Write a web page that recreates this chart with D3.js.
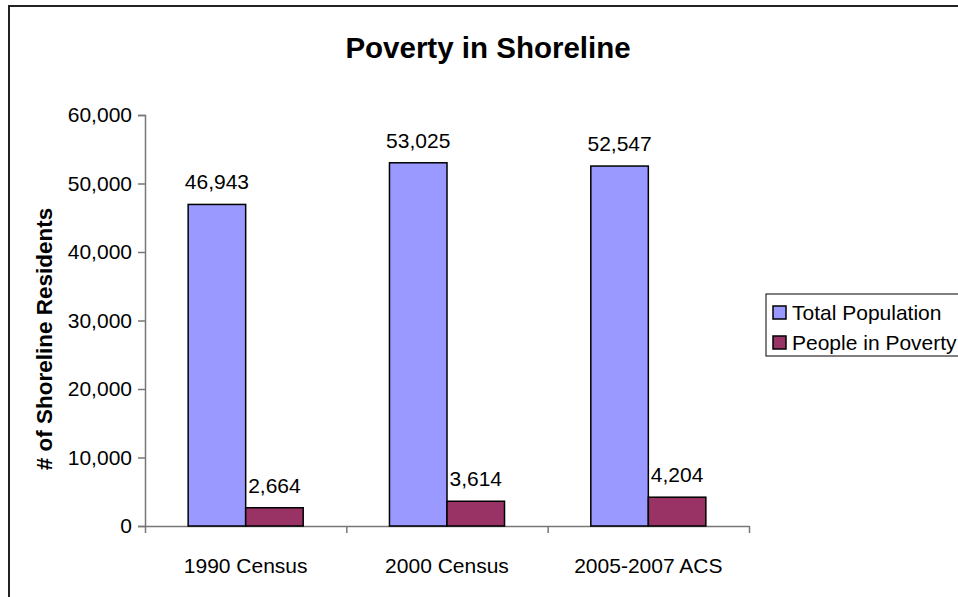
<!DOCTYPE html>
<html>
<head>
<meta charset="utf-8">
<script src="https://cdn.jsdelivr.net/npm/d3@7"></script>
<style>
  html, body { margin: 0; padding: 0; background: #fff; }
  svg { display: block; font-family: Arial, "Liberation Sans", sans-serif; }
</style>
</head>
<body>
<svg id="chart" width="958" height="597"></svg>
<script>
// Poverty in Shoreline — total population vs. people in poverty
const categories = ["1990 Census", "2000 Census", "2005-2007 ACS"];
const seriesNames = ["Total Population", "People in Poverty"];
const totalPopulation = [46943, 53025, 52547];
const peopleInPoverty = [2664, 3614, 4204];
const yTicks = [0, 10000, 20000, 30000, 40000, 50000, 60000];
const seriesColors = ["#9999FF", "#993366"];

const seriesValues = [totalPopulation, peopleInPoverty];

const svg = d3.select("#chart");

// outer frame
svg.append("rect")
  .attr("x", 9).attr("y", 6)
  .attr("width", 1200).attr("height", 1200)
  .attr("fill", "none").attr("stroke", "#222").attr("stroke-width", 2);

// title
svg.append("text")
  .attr("x", 488).attr("y", 58)
  .attr("text-anchor", "middle")
  .attr("font-size", 29.5).attr("font-weight", "bold")
  .text("Poverty in Shoreline");

const plot = { left: 145, right: 749, top: 115, bottom: 526 };

const x0 = d3.scaleBand().domain(categories).range([plot.left, plot.right]).padding(0);
const x1 = d3.scaleBand().domain(seriesNames).range([0, x0.bandwidth()])
  .paddingInner(0).paddingOuter(0.75);
const y = d3.scaleLinear().domain([0, 60000]).range([plot.bottom, plot.top]);

const fmt = d3.format(",");

// y axis
const yAxis = d3.axisLeft(y).tickValues(yTicks).tickFormat(fmt).tickSize(7).tickPadding(6);
const gy = svg.append("g").attr("transform", `translate(${plot.left},0)`).call(yAxis);
gy.select(".domain").attr("stroke", "#777").attr("stroke-width", 1.5);
gy.selectAll(".tick line").attr("stroke", "#777").attr("stroke-width", 1.5);
gy.selectAll(".tick text").attr("font-size", 21).attr("fill", "#000")
  .attr("font-family", "Arial, 'Liberation Sans', sans-serif");

// x axis: ticks at category boundaries
const boundaries = categories.map(c => x0(c)).concat([plot.right]);
const xb = d3.scaleLinear().domain([plot.left, plot.right]).range([plot.left, plot.right]);
const xAxis = d3.axisBottom(xb).tickValues(boundaries).tickFormat("").tickSize(7).tickSizeOuter(0);
const gx = svg.append("g").attr("transform", `translate(0,${plot.bottom})`).call(xAxis);
gx.select(".domain").attr("stroke", "#777").attr("stroke-width", 1.5);
gx.selectAll(".tick line").attr("stroke", "#777").attr("stroke-width", 1.5);

// category labels
svg.append("g").selectAll("text").data(categories).join("text")
  .attr("x", d => x0(d) + x0.bandwidth() / 2)
  .attr("y", 573)
  .attr("text-anchor", "middle")
  .attr("font-size", 21)
  .text(d => d);

// y axis title
svg.append("text")
  .attr("transform", `translate(52,339) rotate(-90)`)
  .attr("text-anchor", "middle")
  .attr("font-size", 22.5).attr("font-weight", "bold")
  .text("# of Shoreline Residents");

// bars
const barData = [];
categories.forEach((c, i) => {
  seriesNames.forEach((s, j) => {
    barData.push({ cat: c, series: s, value: seriesValues[j][i], color: seriesColors[j] });
  });
});

svg.append("g").selectAll("rect").data(barData).join("rect")
  .attr("x", d => x0(d.cat) + x1(d.series))
  .attr("y", d => y(d.value))
  .attr("width", x1.bandwidth())
  .attr("height", d => y(0) - y(d.value))
  .attr("fill", d => d.color)
  .attr("stroke", "#000").attr("stroke-width", 1.5);

// value labels
svg.append("g").selectAll("text").data(barData).join("text")
  .attr("x", d => x0(d.cat) + x1(d.series) + x1.bandwidth() / 2)
  .attr("y", d => y(d.value) - 15)
  .attr("text-anchor", "middle")
  .attr("font-size", 21)
  .text(d => fmt(d.value));

// legend
const legend = svg.append("g");
legend.append("rect")
  .attr("x", 766).attr("y", 294).attr("width", 300).attr("height", 62)
  .attr("fill", "#fff").attr("stroke", "#000").attr("stroke-width", 1);
seriesNames.forEach((s, j) => {
  const cy = 312 + j * 30;
  legend.append("rect")
    .attr("x", 773).attr("y", cy - 6).attr("width", 13).attr("height", 13)
    .attr("fill", seriesColors[j]).attr("stroke", "#000").attr("stroke-width", 1.5);
  legend.append("text")
    .attr("x", 792).attr("y", cy + 7.5)
    .attr("font-size", 21)
    .text(s);
});
</script>
</body>
</html>
